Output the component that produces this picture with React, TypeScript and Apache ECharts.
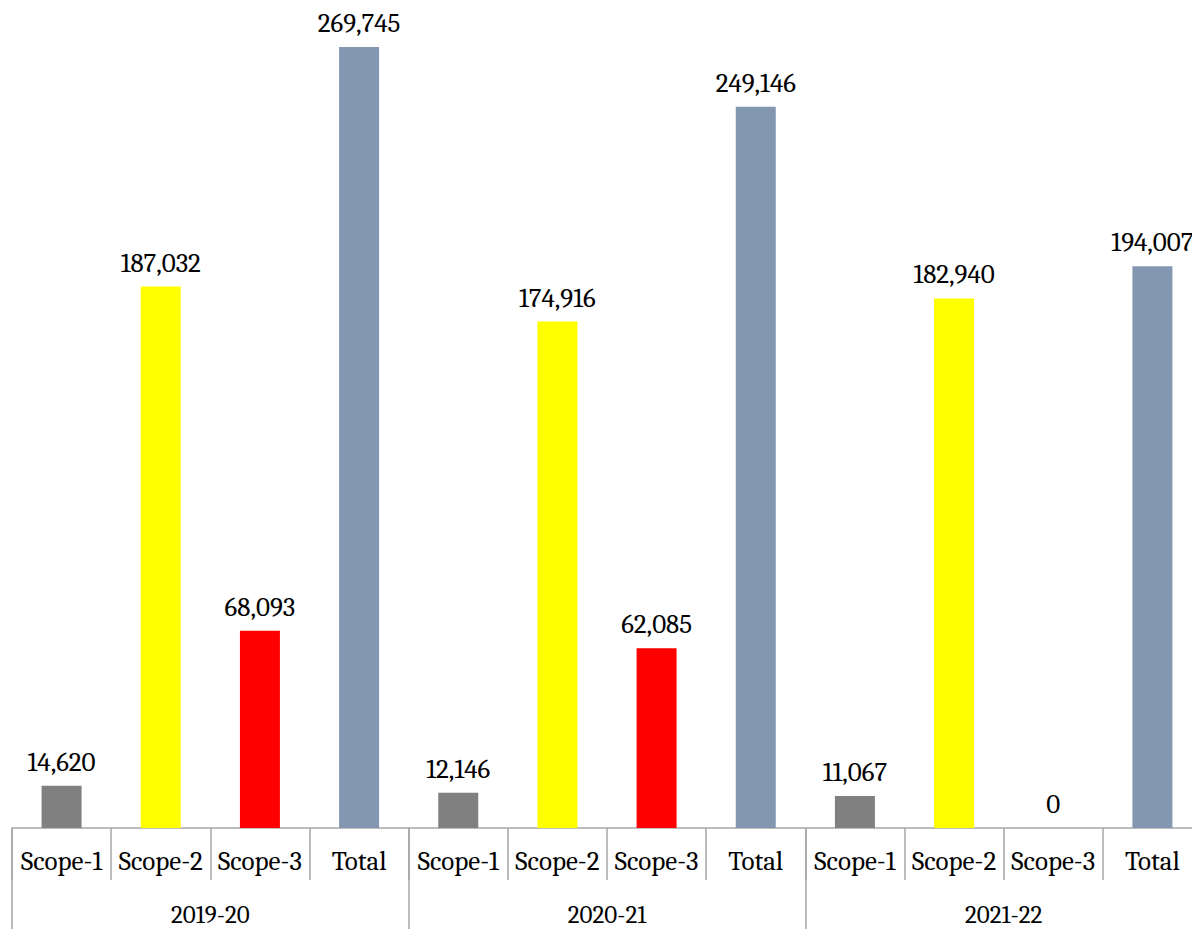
import React, { useEffect, useRef } from "react";
import * as echarts from "echarts";

const scopes = ["Scope-1", "Scope-2", "Scope-3", "Total"];
const years = ["2019-20", "2020-21", "2021-22"];
const values2019 = [14620, 187032, 68093, 269745];
const values2020 = [12146, 174916, 62085, 249146];
const values2021 = [11067, 182940, 0, 194007];
const scopeColors = ["#808080", "#FFFF00", "#FF0000", "#8497B0"];

export default function App() {
  const ref = useRef<HTMLDivElement>(null);
  useEffect(() => {
    if (!ref.current) return;
    const chart = echarts.init(ref.current, undefined, { renderer: "svg" });
    const allValues = [values2019, values2020, values2021];
    const cats: string[] = [];
    const data: any[] = [];
    allValues.forEach((vals) => {
      vals.forEach((v, i) => {
        cats.push(scopes[i]);
        data.push({ value: v, itemStyle: { color: scopeColors[i] } });
      });
    });
    const font = "Cambria, 'Liberation Serif', serif";
    const axisColor = "#A6A6A6";
    chart.setOption({
      animation: false,
      backgroundColor: "#ffffff",
      grid: { left: 12, width: 1190, top: 17.4, height: 810.6, containLabel: false },
      xAxis: [
        {
          type: "category",
          data: cats,
          position: "bottom",
          axisLine: { show: true, lineStyle: { color: axisColor, width: 1.5 } },
          axisTick: { show: true, interval: 0, length: 52, lineStyle: { color: axisColor, width: 1.5 } },
          axisLabel: { interval: 0, fontSize: 27, color: "#000", fontFamily: font, margin: 20 },
          splitLine: { show: false },
        },
        {
          type: "category",
          data: years,
          position: "bottom",
          axisLine: { show: false },
          axisTick: { show: true, interval: 0, length: 101, lineStyle: { color: axisColor, width: 1.5 } },
          axisLabel: { interval: 0, fontSize: 25, color: "#000", fontFamily: font, margin: 74 },
          splitLine: { show: false },
        },
      ],
      yAxis: {
        type: "value",
        min: 0,
        max: 280000,
        show: false,
        splitLine: { show: false },
      },
      series: [
        {
          type: "bar",
          xAxisIndex: 0,
          data,
          barWidth: 40,
          label: {
            show: true,
            position: "top",
            distance: 10,
            fontSize: 27,
            color: "#000",
            fontFamily: font,
            formatter: (p: any) => Number(p.value).toLocaleString("en-US"),
          },
        },
      ],
    });
    return () => chart.dispose();
  }, []);
  return (
    <div style={{ position: "absolute", left: 0, top: 0, width: 1192, height: 929, overflow: "hidden", background: "#fff" }}>
      <div ref={ref} style={{ width: 1210, height: 929 }} />
    </div>
  );
}
